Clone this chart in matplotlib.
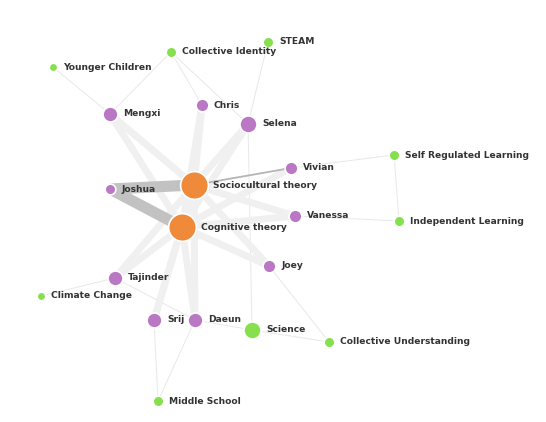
import matplotlib
matplotlib.use("Agg")
import matplotlib.pyplot as plt

# node name, x, y (layout in pixel space), size, group
names = ["Sociocultural theory", "Cognitive theory",
         "Joshua", "Mengxi", "Chris", "Selena", "Vivian", "Vanessa", "Joey",
         "Tajinder", "Srij", "Daeun",
         "Collective Identity", "STEAM", "Younger Children", "Self Regulated Learning",
         "Independent Learning", "Climate Change", "Science", "Collective Understanding",
         "Middle School"]
xs = [194, 182, 110, 110, 202, 248, 291, 295, 269, 115, 154, 195,
      171, 268, 53, 394, 399, 41, 252, 329, 158]
ys = [185, 227, 189, 114, 105, 124, 168, 216, 266, 278, 320, 320,
      52, 42, 67, 155, 221, 296, 330, 342, 401]
radii = [13, 13, 5, 7, 6, 8, 6, 6, 6, 7, 7, 7,
         5, 5, 4, 5, 5, 4, 8, 5, 5]
groups = ["theory"] * 2 + ["person"] * 10 + ["topic"] * 9

people = names[2:12]
edges = []
for p in people:
    w1 = 5 if p != "Joshua" else 8
    edges.append(("Sociocultural theory", p, w1))
    edges.append(("Cognitive theory", p, w1))
edges.append(("Sociocultural theory", "Cognitive theory", 5))
thin = [("Mengxi", "Younger Children"), ("Mengxi", "Collective Identity"),
        ("Chris", "Collective Identity"), ("Selena", "STEAM"),
        ("Selena", "Collective Identity"), ("Selena", "Science"),
        ("Vivian", "Self Regulated Learning"), ("Vanessa", "Independent Learning"),
        ("Self Regulated Learning", "Independent Learning"),
        ("Joey", "Collective Understanding"), ("Science", "Collective Understanding"),
        ("Tajinder", "Climate Change"), ("Tajinder", "Daeun"),
        ("Srij", "Middle School"), ("Daeun", "Middle School"),
        ("Daeun", "Science")]
dark = {("Sociocultural theory", "Joshua"), ("Cognitive theory", "Joshua")}

colors = {"theory": "#ee8a3a", "person": "#b977c4", "topic": "#86e04e"}
idx = {n: i for i, n in enumerate(names)}

fig = plt.figure(figsize=(5.46, 4.22), dpi=100)
ax = fig.add_axes([0, 0, 1, 1])
ax.set_xlim(0, 546)
ax.set_ylim(422, 0)
ax.axis("off")

for a, b in thin:
    i, j = idx[a], idx[b]
    ax.plot([xs[i], xs[j]], [ys[i], ys[j]], color="#e8e8e8", lw=0.7, zorder=1)
for a, b, w in edges:
    i, j = idx[a], idx[b]
    c = "#c2c2c2" if (a, b) in dark else "#f0f0f0"
    if b == "Vivian" and a == "Sociocultural theory":
        c, w = "#b5b5b5", 1.3
    ax.plot([xs[i], xs[j]], [ys[i], ys[j]], color=c, lw=w,
            solid_capstyle="butt", zorder=2 if c != "#f0f0f0" else 1.5)

for n, x, y, r, g in zip(names, xs, ys, radii, groups):
    ax.scatter(x, y, s=(2 * r * 0.75) ** 2 * 1.05, color=colors[g],
               edgecolors="white", linewidths=1.2, zorder=3)
    ax.text(x + r + 6, y, n, fontsize=6.6, fontweight="bold", color="#333333",
            va="center", ha="left", zorder=4)

fig.savefig("out.png", dpi=100)
